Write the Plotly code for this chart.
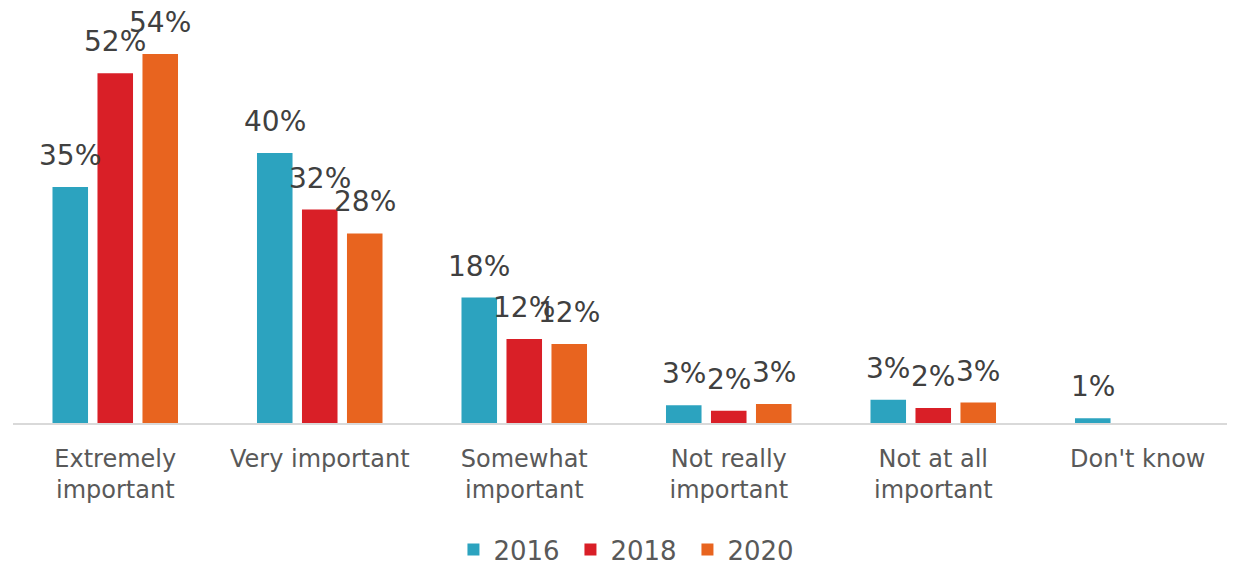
import plotly.graph_objects as go

CATEGORIES = [
    "Extremely<br>important",
    "Very important",
    "Somewhat<br>important",
    "Not really<br>important",
    "Not at all<br>important",
    "Don't know",
]
YEARS = ["2016", "2018", "2020"]

# bar heights (%)
V2016 = [34.6, 39.6, 18.4, 2.6, 3.4, 0.7]
V2018 = [51.3, 31.3, 12.3, 1.8, 2.2, None]
V2020 = [54.1, 27.8, 11.6, 2.8, 3.0, None]
# printed data labels (%)
L2016 = [35, 40, 18, 3, 3, 1]
L2018 = [52, 32, 12, 2, 2, None]
L2020 = [54, 28, 12, 3, 3, None]

COLORS = ["#2ca3bf", "#d91f27", "#e8641f"]
FONT = "DejaVu Sans, sans-serif"
TICK = "#595959"
LABEL = "#404040"

W, H = 1235, 563
ML, MR, MT, MB = 5, 3, 0, 148
XRANGE = [-0.5, 5.5]
YRANGE = [0, 60.85]
BARGAP = 0.34
px_per_unit = (W - ML - MR) / (XRANGE[1] - XRANGE[0])
slot_px = (1 - BARGAP) / 3 * px_per_unit

fig = go.Figure()
series = [(V2016, L2016), (V2018, L2018), (V2020, L2020)]
for i, (vals, labs) in enumerate(series):
    fig.add_trace(go.Bar(
        x=CATEGORIES, y=vals, name=YEARS[i],
        marker=dict(color=COLORS[i], line=dict(width=0)),
    ))
    # value labels sit above each bar, like the original's "outside end" labels
    for cat, v, lab in zip(CATEGORIES, vals, labs):
        if v is None:
            continue
        fig.add_annotation(
            x=cat, y=v, text=f"{lab}%", showarrow=False,
            xanchor="center", yanchor="bottom",
            xshift=(i - 1) * slot_px, yshift=13,
            font=dict(family=FONT, size=28, color=LABEL),
        )

fig.update_layout(
    width=W, height=H,
    margin=dict(l=ML, r=MR, t=MT, b=MB, autoexpand=False),
    paper_bgcolor="white", plot_bgcolor="white",
    barmode="group", bargap=BARGAP, bargroupgap=0.21,
    font=dict(family=FONT, color=TICK),
    showlegend=True,
    legend=dict(
        orientation="h", x=0.502, xanchor="center", y=-0.305, yanchor="middle",
        font=dict(family=FONT, size=26, color=TICK),
        itemwidth=30, traceorder="normal", entrywidth=72,
    ),
)
fig.update_xaxes(
    range=XRANGE, showgrid=False, zeroline=False,
    showline=True, linecolor="#d9d9d9", linewidth=2,
    ticks="", tickfont=dict(family=FONT, size=24, color=TICK),
    tickangle=0, ticklabelstandoff=13,
)
fig.update_yaxes(
    range=YRANGE, visible=False, showgrid=False, zeroline=False,
)

fig.write_html("out.html")
